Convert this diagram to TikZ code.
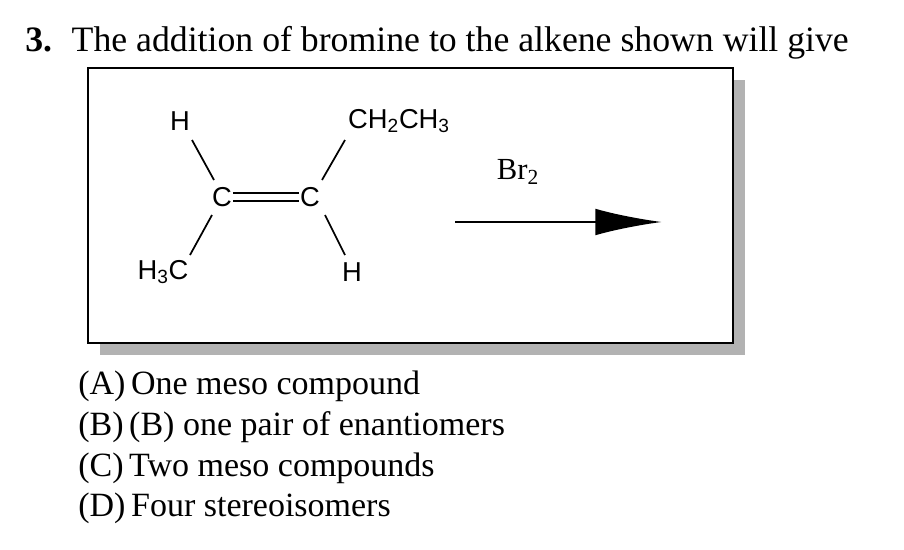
\documentclass[tikz,border=0pt]{standalone}
\usepackage{fontspec}
\setmainfont{Liberation Serif}
\newfontfamily\chem{Liberation Sans}
\usetikzlibrary{arrows.meta}
\begin{document}
\begin{tikzpicture}[x=0.75pt,y=-0.75pt,
  atom/.style={font=\chem\fontsize{20.5}{22}\selectfont,inner sep=0pt},
  bond/.style={line width=1.3pt},
  opt/.style={anchor=base west,font=\fontsize{25.5}{28}\selectfont,inner sep=0pt}]
\useasboundingbox (0,0) rectangle (904,550);
\fill[white] (0,0) rectangle (904,550);
\node[anchor=base west,inner sep=0pt,font=\fontsize{26.8}{29}\selectfont] (title) at (25,51) {\textbf{3.}\hspace{0.55em}The addition of bromine to the alkene shown will give};
\fill[gray!60] (100,80) rectangle (745,355);
\draw[line width=2.2pt,fill=white] (88,68) rectangle (733,343);
\node[atom] (c1) at (222,197) {C};
\node[atom] (c2) at (310,197) {C};
\node[atom] (h1) at (180,121) {H};
\node[atom] (me) at (163,272) {H\textsubscript{3}C};
\node[atom] (et) at (399,121) {CH\textsubscript{2}CH\textsubscript{3}};
\node[atom] (h2) at (352,272) {H};
\draw[bond] ([yshift=3pt]c1.east) ++(1pt,0) -- ([yshift=3pt,xshift=-1pt]c2.west);
\draw[bond] ([yshift=-3pt]c1.east) ++(1pt,0) -- ([yshift=-3pt,xshift=-1pt]c2.west);
\draw[bond] (192,140) -- (214,180);
\draw[bond] (190,255) -- (212,215);
\draw[bond] (345,140) -- (322,180);
\draw[bond] (325,215) -- (345,255);
\node[font=\fontsize{23}{25}\selectfont] (br) at (518,172) {Br\textsubscript{2}};
\coordinate (a0) at (455,222);
\coordinate (a1) at (662,222);
\draw[line width=2pt,-{Latex[length=50pt,width=20pt]}] (a0) -- (a1);
\node[opt] (oa) at (78,394) {(A)\,One meso compound};
\node[opt] (ob) at (78,435) {(B)\,(B) one pair of enantiomers};
\node[opt] (oc) at (78,476) {(C)\,Two meso compounds};
\node[opt] (od) at (78,516) {(D)\,Four stereoisomers};
\end{tikzpicture}
\end{document}
